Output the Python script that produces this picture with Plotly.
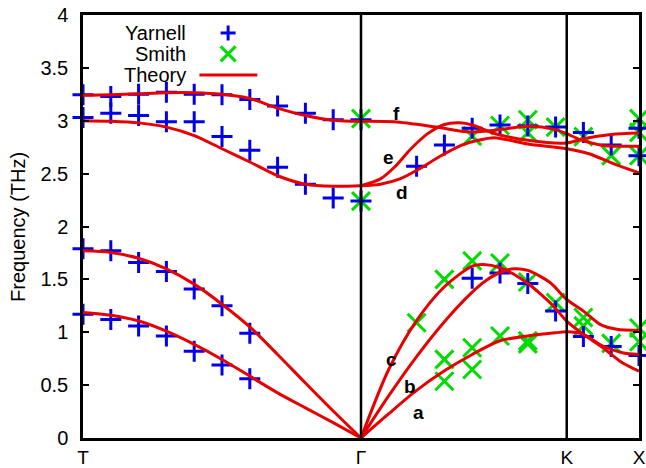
import plotly.graph_objects as go

# ---------------- data ----------------
sym_x = [0, 1, 1.74, 2]
sym_labels = ["T", "Γ", "K", "X"]
y_ticks = [0, 0.5, 1, 1.5, 2, 2.5, 3, 3.5, 4]
y_tick_labels = ["0", "0.5", "1", "1.5", "2", "2.5", "3", "3.5", "4"]

# Theory, T -> Gamma
tg_x = [0, 0.1, 0.2, 0.3, 0.4, 0.5, 0.6, 0.7, 0.8, 0.9, 1.0]
th_tg_low = [1.186, 1.16, 1.106, 1.01, 0.885, 0.743, 0.585, 0.427, 0.285, 0.145, 0.0]
th_tg_up = [1.77, 1.755, 1.70, 1.60, 1.455, 1.265, 1.05, 0.79, 0.52, 0.255, 0.0]
th_tg_d = [3.0, 2.995, 2.98, 2.94, 2.86, 2.735, 2.61, 2.48, 2.40, 2.38, 2.385]
th_tg_f = [3.24, 3.245, 3.255, 3.265, 3.265, 3.25, 3.21, 3.12, 3.05, 3.005, 2.995]

# Theory, Gamma -> K -> X
a_x = [1.0, 1.1, 1.2, 1.3, 1.4, 1.5, 1.6, 1.7, 1.74, 1.8, 1.87, 1.94, 2.0]
a_y = [0.0, 0.23, 0.45, 0.635, 0.79, 0.92, 0.965, 0.995, 1.005, 0.98, 0.87, 0.806, 0.79]
b_x = [1.0, 1.1, 1.2, 1.3, 1.4, 1.45, 1.5, 1.55, 1.6, 1.68, 1.74, 1.8, 1.86, 1.92, 2.0]
b_y = [0.0, 0.40, 0.77, 1.10, 1.38, 1.49, 1.565, 1.60, 1.585, 1.47, 1.31, 1.20, 1.075, 1.028, 1.018]
c_x = [1.0, 1.1, 1.2, 1.3, 1.4, 1.44, 1.5, 1.58, 1.68, 1.74, 1.8, 1.87, 1.94, 2.0]
c_y = [0.0, 0.65, 1.11, 1.43, 1.625, 1.64, 1.61, 1.50, 1.28, 1.106, 0.98, 0.854, 0.712, 0.632]
d_x = [1.0, 1.07, 1.14, 1.21, 1.28, 1.36, 1.42, 1.48, 1.6, 1.74, 1.82, 1.91, 2.0]
d_y = [2.385, 2.40, 2.45, 2.545, 2.657, 2.767, 2.815, 2.84, 2.78, 2.735, 2.688, 2.593, 2.508]
e_x = [1.0, 1.07, 1.12, 1.18, 1.24, 1.3, 1.356, 1.4, 1.48, 1.6, 1.74, 1.8, 1.9, 2.0]
e_y = [2.385, 2.45, 2.56, 2.735, 2.878, 2.965, 2.98, 2.96, 2.88, 2.815, 2.79, 2.83, 2.87, 2.884]
f_x = [1.0, 1.12, 1.27, 1.39, 1.48, 1.6, 1.7, 1.74, 1.79, 1.87, 2.0]
f_y = [2.995, 2.99, 2.94, 2.894, 2.91, 2.947, 2.916, 2.877, 2.82, 2.767, 2.758]

# Yarnell (blue +)
yar_x = ([0, 0.1, 0.2, 0.3, 0.4, 0.5, 0.6, 0.7, 0.8, 0.9, 1.0] * 2
         + [0, 0.1, 0.2, 0.3, 0.4, 0.5, 0.6] * 2
         + [1.2, 1.3, 1.4, 1.5, 1.6, 1.7, 1.8, 1.9, 2.0, 2.0]
         + [1.4, 1.5, 1.6, 1.7, 1.8, 1.9, 2.0])
yar_y = ([3.245, 3.23, 3.25, 3.27, 3.25, 3.245, 3.20, 3.14, 3.07, 3.01, 3.01]
         + [3.03, 3.07, 3.05, 2.99, 2.99, 2.85, 2.72, 2.56, 2.40, 2.27, 2.24]
         + [1.79, 1.77, 1.66, 1.575, 1.41, 1.25, 0.99]
         + [1.17, 1.12, 1.06, 0.965, 0.82, 0.69, 0.56]
         + [2.57, 2.77, 2.93, 2.96, 2.95, 2.94, 2.89, 2.77, 2.67, 2.93]
         + [1.51, 1.56, 1.46, 1.20, 0.96, 0.865, 0.78])

# Smith (green x)
smi_x = ([1.0, 1.0, 1.4, 1.5, 1.6, 1.6, 1.7, 1.8, 1.9, 2.0, 2.0, 2.0]
         + [1.2, 1.3, 1.4, 1.5, 1.6, 1.7, 1.8, 1.8, 1.9, 2.0, 2.0]
         + [1.3, 1.3, 1.4, 1.4, 1.5, 1.6, 1.6])
smi_y = ([3.02, 2.24, 2.855, 2.955, 3.01, 2.885, 2.94, 2.85, 2.67, 3.02, 2.89, 2.67]
         + [1.09, 1.50, 1.675, 1.655, 1.475, 1.28, 1.14, 1.06, 0.895, 1.04, 0.91]
         + [0.743, 0.537, 0.854, 0.648, 0.964, 0.92, 0.89])

branch_labels = ["a", "b", "c", "d", "e", "f"]
branch_lab_x = [1.206, 1.176, 1.110, 1.146, 1.098, 1.128]
branch_lab_y = [0.237, 0.49, 0.743, 2.325, 2.657, 3.07]

# ---------------- figure ----------------
RED = "rgb(232,0,0)"
BLUE = "rgb(0,0,235)"
GREEN = "rgb(0,220,0)"
FONT = "Liberation Sans, Arial, sans-serif"

fig = go.Figure()

fig.add_trace(go.Scatter(x=smi_x, y=smi_y, mode="markers", cliponaxis=False,
                         marker=dict(symbol="x-thin", size=18, line=dict(color=GREEN, width=3))))
fig.add_trace(go.Scatter(x=yar_x, y=yar_y, mode="markers", cliponaxis=False,
                         marker=dict(symbol="cross-thin", size=15, line=dict(color=BLUE, width=3))))

line_kw = dict(color=RED, width=3, shape="spline", smoothing=0.8)
for ys in [th_tg_low, th_tg_up, th_tg_d, th_tg_f]:
    fig.add_trace(go.Scatter(x=tg_x, y=ys, mode="lines", line=line_kw))
for xs, ys in [(a_x, a_y), (b_x, b_y), (c_x, c_y), (d_x, d_y), (e_x, e_y), (f_x, f_y)]:
    fig.add_trace(go.Scatter(x=xs, y=ys, mode="lines", line=line_kw))

# vertical symmetry lines at Gamma and K
for xv in sym_x[1:3]:
    fig.add_shape(type="line", x0=xv, x1=xv, y0=0, y1=1, xref="x", yref="paper",
                  line=dict(color="black", width=2.5))

# branch labels
for t, bx, by in zip(branch_labels, branch_lab_x, branch_lab_y):
    fig.add_annotation(x=bx, y=by, text="<b>%s</b>" % t, showarrow=False,
                       font=dict(family=FONT, size=19, color="black"))

# legend (gnuplot style: text right-aligned, symbol on right)
leg_names = ["Yarnell", "Smith", "Theory"]
leg_y = [0.9575, 0.908, 0.858]
for name, ly in zip(leg_names, leg_y):
    fig.add_annotation(x=0.188, y=ly, xref="paper", yref="paper", text=name,
                       showarrow=False, xanchor="right", yanchor="middle",
                       font=dict(family=FONT, size=20, color="black"))
cx, hx, hy = 0.261, 0.0135, 0.0177
fig.add_shape(type="line", xref="paper", yref="paper", x0=cx - hx, x1=cx + hx,
              y0=leg_y[0], y1=leg_y[0], line=dict(color=BLUE, width=3))
fig.add_shape(type="line", xref="paper", yref="paper", x0=cx, x1=cx,
              y0=leg_y[0] - hy, y1=leg_y[0] + hy, line=dict(color=BLUE, width=3))
fig.add_shape(type="line", xref="paper", yref="paper", x0=cx - hx, x1=cx + hx,
              y0=leg_y[1] - hy, y1=leg_y[1] + hy, line=dict(color=GREEN, width=3))
fig.add_shape(type="line", xref="paper", yref="paper", x0=cx - hx, x1=cx + hx,
              y0=leg_y[1] + hy, y1=leg_y[1] - hy, line=dict(color=GREEN, width=3))
fig.add_shape(type="line", xref="paper", yref="paper", x0=0.2094, x1=0.3135,
              y0=leg_y[2], y1=leg_y[2], line=dict(color=RED, width=3))

# y-axis title
fig.add_annotation(x=-0.118, y=0.5, xref="paper", yref="paper", text="Frequency (THz)",
                   textangle=-90, showarrow=False, xanchor="center", yanchor="middle",
                   font=dict(family=FONT, size=20, color="black"))

fig.update_layout(
    width=646, height=468,
    margin=dict(l=83, r=7, t=15, b=30),
    paper_bgcolor="white", plot_bgcolor="white",
    showlegend=False,
    font=dict(family=FONT, size=20, color="black"),
    xaxis=dict(range=[0, 2], tickvals=sym_x, ticktext=sym_labels, ticks="",
               showgrid=False, zeroline=False, showline=True, mirror=True,
               linecolor="black", linewidth=2.5, automargin=False,
               tickfont=dict(family=FONT, size=19), ticklabelstandoff=0),
    yaxis=dict(range=[0, 4], tickvals=y_ticks, ticktext=y_tick_labels,
               ticks="inside", ticklen=6, tickwidth=2, tickcolor="black",
               showgrid=False, zeroline=False, showline=True, mirror="ticks",
               linecolor="black", linewidth=2.5, automargin=False,
               tickfont=dict(family=FONT, size=20), ticklabelstandoff=8),
)

fig.write_html("out.html", config={"displayModeBar": False},
               post_script="document.body.style.margin='0';document.body.style.overflow='hidden';")
